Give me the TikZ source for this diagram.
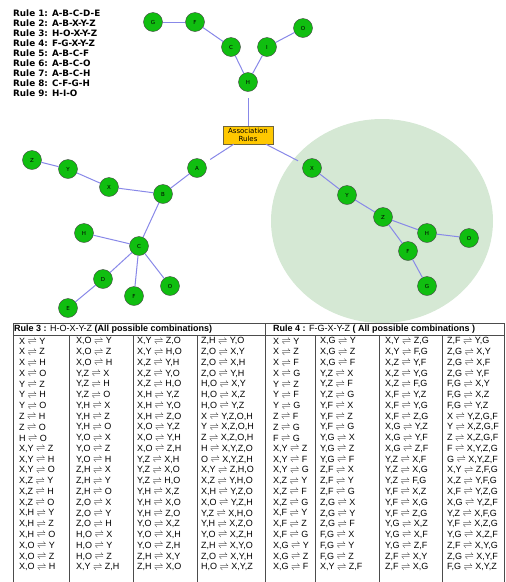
\documentclass[tikz,border=0pt]{standalone}
\usepackage{fontspec}
\setmainfont{Liberation Sans}
\newfontfamily\dejavu{DejaVu Sans}
\usepackage{tikz}
\usetikzlibrary{positioning}

\definecolor{nodegreen}{RGB}{16,190,16}
\definecolor{nodeline}{RGB}{70,70,70}
\definecolor{linkblue}{RGB}{136,136,232}
\definecolor{boxgold}{RGB}{255,200,0}
\definecolor{boxline}{RGB}{110,100,60}
\definecolor{zonegreen}{RGB}{213,232,212}

\newcommand{\harp}{\ $\rightleftharpoons$\ }
\newcommand{\tabcol}[3]{\foreach \t [count=\i] in {#3}
  \node[cell] (#1-\i) at (#2,{341.3+10.76*(\i-1)}) {\t};}

\begin{document}
\begin{tikzpicture}[
  x=1pt,y=-1pt,
  vx/.style={circle,draw=nodeline,fill=nodegreen,minimum size=19pt,inner sep=0pt,
    font=\dejavu\fontsize{5.5}{6}\selectfont},
  rulebox/.style={draw=boxline,fill=boxgold,minimum width=50pt,minimum height=18pt,
    inner sep=0pt,align=center,font=\dejavu\fontsize{7}{7.6}\selectfont},
  link/.style={draw=linkblue,line width=1pt},
  rule/.style={anchor=west,inner sep=0pt,font=\dejavu\bfseries\fontsize{8.8}{9}\selectfont},
  cell/.style={anchor=west,inner sep=0pt,font=\fontsize{9}{10}\selectfont},
  head/.style={anchor=west,inner sep=0pt,font=\fontsize{9}{10}\selectfont},
  grid/.style={draw=black!70,line width=0.8pt}
]
  \useasboundingbox (0,0) rectangle (506,582);

  \fill[zonegreen] (382,221) ellipse [x radius=111pt,y radius=102pt];

  \foreach \s [count=\i] in {A-B-C-D-E,A-B-X-Y-Z,H-O-X-Y-Z,F-G-X-Y-Z,A-B-C-F,A-B-C-O,A-B-C-H,C-F-G-H,H-I-O}
    \node[rule] (rule\i) at (13,{13.3+9.93*(\i-1)}) {Rule \i: \s};

  \node[rulebox] (assoc) at (248,135) {Association\\Rules};

  \node[vx] (tG) at (153,22)  {G};
  \node[vx] (tF) at (195,22)  {F};
  \node[vx] (tC) at (231,47)  {C};
  \node[vx] (tI) at (267,47)  {I};
  \node[vx] (tO) at (303,28)  {O};
  \node[vx] (tH) at (248,82)  {H};

  \node[vx] (lZ) at (32,160)  {Z};
  \node[vx] (lY) at (68,169)  {Y};
  \node[vx] (lX) at (109,187) {X};
  \node[vx] (lB) at (163,194) {B};
  \node[vx] (lA) at (197,168) {A};
  \node[vx] (lH) at (84,233)  {H};
  \node[vx] (lC) at (139,246) {C};
  \node[vx] (lD) at (103,279) {D};
  \node[vx] (lE) at (68,308)  {E};
  \node[vx] (lF) at (134,296) {F};
  \node[vx] (lO) at (170,286) {O};

  \node[vx] (rX) at (312,168) {X};
  \node[vx] (rY) at (347,195) {Y};
  \node[vx] (rZ) at (383,217) {Z};
  \node[vx] (rH) at (427,233) {H};
  \node[vx] (rO) at (469,238) {O};
  \node[vx] (rF) at (408,251) {F};
  \node[vx] (rG) at (427,286) {G};

  \draw[link,shorten >=6.5pt] (assoc) -- (tH);
  \draw[link,shorten >=6pt] (assoc) -- (lA);
  \draw[link,shorten >=6pt] (assoc) -- (rX);

  \draw[link] (tH) -- (tC);
  \draw[link] (tH) -- (tI);
  \draw[link] (tC) -- (tF);
  \draw[link] (tF) -- (tG);
  \draw[link] (tI) -- (tO);

  \draw[link] (lA) -- (lB);
  \draw[link] (lB) -- (lX);
  \draw[link] (lX) -- (lY);
  \draw[link] (lY) -- (lZ);
  \draw[link] (lB) -- (lC);
  \draw[link] (lC) -- (lH);
  \draw[link] (lC) -- (lD);
  \draw[link] (lD) -- (lE);
  \draw[link] (lC) -- (lF);
  \draw[link] (lC) -- (lO);

  \draw[link] (rX) -- (rY);
  \draw[link] (rY) -- (rZ);
  \draw[link] (rZ) -- (rH);
  \draw[link] (rH) -- (rO);
  \draw[link] (rZ) -- (rF);
  \draw[link] (rF) -- (rG);

  \fill[white] (13,323) rectangle (506,582);
  \draw[grid] (13,582) -- (13,323) -- (504,323) -- (504,582);
  \draw[grid] (265,323) -- (265,582);
  \draw[grid] (13,335) -- (504,335);
  \foreach \x in {69,133,197,315,379,442}
    \draw[grid] (\x,335) -- (\x,582);

  \node[head] (head3) at (14,329) {\textbf{Rule 3 :} H-O-X-Y-Z \textbf{(All possible combinations)}};
  \node[head] (head4) at (273,329) {\textbf{Rule 4 :} F-G-X-Y-Z \textbf{( All possible combinations )}};

  \tabcol{a1}{19}{{X\harp Y},{X\harp Z},{X\harp H},{X\harp O},{Y\harp Z},{Y\harp H},{Y\harp O},{Z\harp H},{Z\harp O},{H\harp O},{X,Y\harp Z},{X,Y\harp H},{X,Y\harp O},{X,Z\harp Y},{X,Z\harp H},{X,Z\harp O},{X,H\harp Y},{X,H\harp Z},{X,H\harp O},{X,O\harp Y},{X,O\harp Z},{X,O\harp H}}
  \tabcol{a2}{76}{{X,O\harp Y},{X,O\harp Z},{X,O\harp H},{Y,Z\harp X},{Y,Z\harp H},{Y,Z\harp O},{Y,H\harp X},{Y,H\harp Z},{Y,H\harp O},{Y,O\harp X},{Y,O\harp Z},{Y,O\harp H},{Z,H\harp X},{Z,H\harp Y},{Z,H\harp O},{Z,O\harp X},{Z,O\harp Y},{Z,O\harp H},{H,O\harp X},{H,O\harp Y},{H,O\harp Z},{X,Y\harp Z,H}}
  \tabcol{a3}{137}{{X,Y\harp Z,O},{X,Y\harp H,O},{X,Z\harp Y,H},{X,Z\harp Y,O},{X,Z\harp H,O},{X,H\harp Y,Z},{X,H\harp Y,O},{X,H\harp Z,O},{X,O\harp Y,Z},{X,O\harp Y,H},{X,O\harp Z,H},{Y,Z\harp X,H},{Y,Z\harp X,O},{Y,Z\harp H,O},{Y,H\harp X,Z},{Y,H\harp X,O},{Y,H\harp Z,O},{Y,O\harp X,Z},{Y,O\harp X,H},{Y,O\harp Z,H},{Z,H\harp X,Y},{Z,H\harp X,O}}
  \tabcol{a4}{201}{{Z,H\harp Y,O},{Z,O\harp X,Y},{Z,O\harp X,H},{Z,O\harp Y,H},{H,O\harp X,Y},{H,O\harp X,Z},{H,O\harp Y,Z},{X\harp Y,Z,O,H},{Y\harp X,Z,O,H},{Z\harp X,Z,O,H},{H\harp X,Y,Z,O},{O\harp X,Y,Z,H},{X,Y\harp Z,H,O},{X,Z\harp Y,H,O},{X,H\harp Y,Z,O},{X,O\harp Y,Z,H},{Y,Z\harp X,H,O},{Y,H\harp X,Z,O},{Y,O\harp X,Z,H},{Z,H\harp X,Y,O},{Z,O\harp X,Y,H},{H,O\harp X,Y,Z}}

  \tabcol{b1}{273}{{X\harp Y},{X\harp Z},{X\harp F},{X\harp G},{Y\harp Z},{Y\harp F},{Y\harp G},{Z\harp F},{Z\harp G},{F\harp G},{X,Y\harp Z},{X,Y\harp F},{X,Y\harp G},{X,Z\harp Y},{X,Z\harp F},{X,Z\harp G},{X,F\harp Y},{X,F\harp Z},{X,F\harp G},{X,G\harp Y},{X,G\harp Z},{X,G\harp F}}
  \tabcol{b2}{320}{{X,G\harp Y},{X,G\harp Z},{X,G\harp F},{Y,Z\harp X},{Y,Z\harp F},{Y,Z\harp G},{Y,F\harp X},{Y,F\harp Z},{Y,F\harp G},{Y,G\harp X},{Y,G\harp Z},{Y,G\harp F},{Z,F\harp X},{Z,F\harp Y},{Z,F\harp G},{Z,G\harp X},{Z,G\harp Y},{Z,G\harp F},{F,G\harp X},{F,G\harp Y},{F,G\harp Z},{X,Y\harp Z,F}}
  \tabcol{b3}{385}{{X,Y\harp Z,G},{X,Y\harp F,G},{X,Z\harp Y,F},{X,Z\harp Y,G},{X,Z\harp F,G},{X,F\harp Y,Z},{X,F\harp Y,G},{X,F\harp Z,G},{X,G\harp Y,Z},{X,G\harp Y,F},{X,G\harp Z,F},{Y,Z\harp X,F},{Y,Z\harp X,G},{Y,Z\harp F,G},{Y,F\harp X,Z},{Y,F\harp X,G},{Y,F\harp Z,G},{Y,G\harp X,Z},{Y,G\harp X,F},{Y,G\harp Z,F},{Z,F\harp X,Y},{Z,F\harp X,G}}
  \tabcol{b4}{447}{{Z,F\harp Y,G},{Z,G\harp X,Y},{Z,G\harp X,F},{Z,G\harp Y,F},{F,G\harp X,Y},{F,G\harp X,Z},{F,G\harp Y,Z},{X\harp Y,Z,G,F},{Y\harp X,Z,G,F},{Z\harp X,Z,G,F},{F\harp X,Y,Z,G},{G\harp X,Y,Z,F},{X,Y\harp Z,F,G},{X,Z\harp Y,F,G},{X,F\harp Y,Z,G},{X,G\harp Y,Z,F},{Y,Z\harp X,F,G},{Y,F\harp X,Z,G},{Y,G\harp X,Z,F},{Z,F\harp X,Y,G},{Z,G\harp X,Y,F},{F,G\harp X,Y,Z}}
\end{tikzpicture}
\end{document}
